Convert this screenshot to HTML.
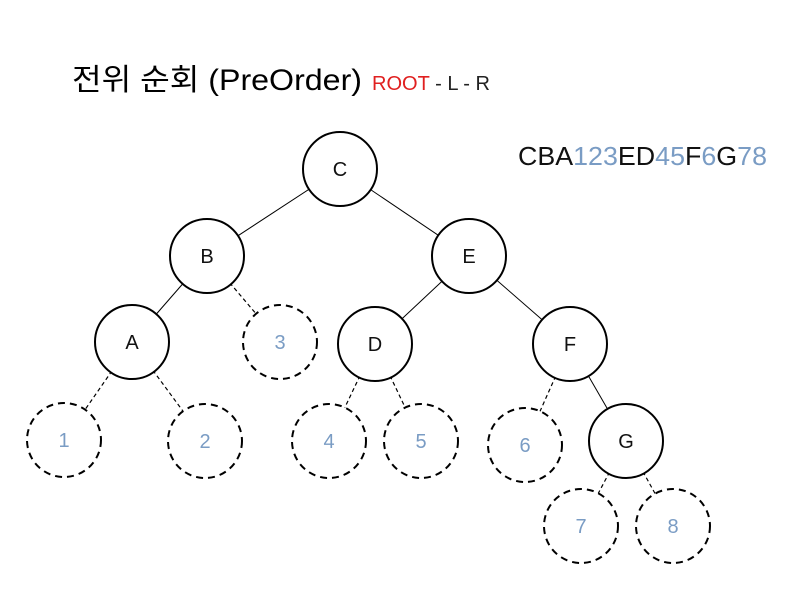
<!DOCTYPE html>
<html><head><meta charset="utf-8"><style>body{margin:0;background:#fff}svg{display:block}</style></head>
<body>
<svg width="800" height="600" xmlns="http://www.w3.org/2000/svg" font-family="Liberation Sans, Noto Sans CJK KR, sans-serif">
<rect width="800" height="600" fill="#fff"/>
<text x="72" y="90" font-size="30" fill="#000" textLength="290" lengthAdjust="spacingAndGlyphs">전위 순회 (PreOrder)</text>
<text x="372" y="90" font-size="20" textLength="118" lengthAdjust="spacingAndGlyphs"><tspan fill="#e02020">ROOT</tspan><tspan fill="#222"> - L - R</tspan></text>
<text x="518" y="165" font-size="26" textLength="249" lengthAdjust="spacingAndGlyphs"><tspan fill="#111">CBA</tspan><tspan fill="#7a9cc4">123</tspan><tspan fill="#111">ED</tspan><tspan fill="#7a9cc4">45</tspan><tspan fill="#111">F</tspan><tspan fill="#7a9cc4">6</tspan><tspan fill="#111">G</tspan><tspan fill="#7a9cc4">78</tspan></text>
<g stroke="#000" stroke-width="1">
<line x1="340" y1="169" x2="207" y2="256"/>
<line x1="340" y1="169" x2="469" y2="256"/>
<line x1="207" y1="256" x2="132" y2="342"/>
<line x1="469" y1="256" x2="375" y2="344"/>
<line x1="469" y1="256" x2="570" y2="344"/>
<line x1="570" y1="344" x2="626" y2="441"/>
</g>
<g stroke="#000" stroke-width="1.2" stroke-dasharray="4,3">
<line x1="207" y1="256" x2="280" y2="342"/>
<line x1="132" y1="342" x2="64" y2="440"/>
<line x1="132" y1="342" x2="205" y2="441"/>
<line x1="375" y1="344" x2="329" y2="441"/>
<line x1="375" y1="344" x2="421" y2="441"/>
<line x1="570" y1="344" x2="525" y2="445"/>
<line x1="626" y1="441" x2="581" y2="526"/>
<line x1="626" y1="441" x2="673" y2="526"/>
</g>
<g fill="#fff" stroke="#000" stroke-width="2">
<circle cx="340" cy="169" r="37"/>
<circle cx="207" cy="256" r="37"/>
<circle cx="469" cy="256" r="37"/>
<circle cx="132" cy="342" r="37"/>
<circle cx="375" cy="344" r="37"/>
<circle cx="570" cy="344" r="37"/>
<circle cx="626" cy="441" r="37"/>
</g>
<g fill="#fff" stroke="#000" stroke-width="2" stroke-dasharray="7,5">
<circle cx="280" cy="342" r="37"/>
<circle cx="64" cy="440" r="37"/>
<circle cx="205" cy="441" r="37"/>
<circle cx="329" cy="441" r="37"/>
<circle cx="421" cy="441" r="37"/>
<circle cx="525" cy="445" r="37"/>
<circle cx="581" cy="526" r="37"/>
<circle cx="673" cy="526" r="37"/>
</g>
<g font-size="20" text-anchor="middle" fill="#111">
<text x="340" y="176">C</text>
<text x="207" y="263">B</text>
<text x="469" y="263">E</text>
<text x="132" y="349">A</text>
<text x="375" y="351">D</text>
<text x="570" y="351">F</text>
<text x="626" y="448">G</text>
</g>
<g font-size="20" text-anchor="middle" fill="#7a9cc4">
<text x="280" y="349">3</text>
<text x="64" y="447">1</text>
<text x="205" y="448">2</text>
<text x="329" y="448">4</text>
<text x="421" y="448">5</text>
<text x="525" y="452">6</text>
<text x="581" y="533">7</text>
<text x="673" y="533">8</text>
</g>
</svg>
</body></html>
